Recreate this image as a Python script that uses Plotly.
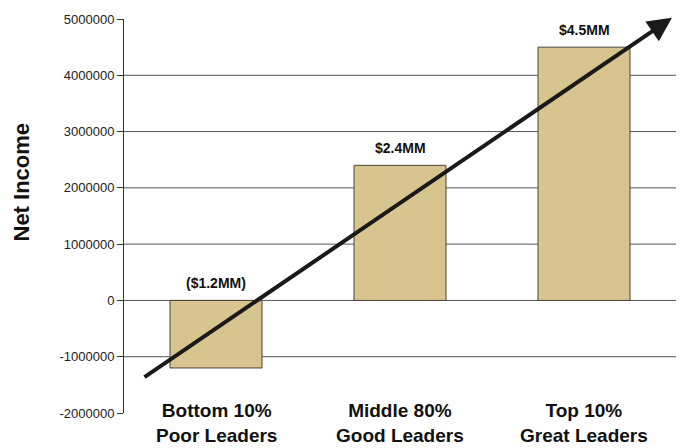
import plotly.graph_objects as go

categories = ["Bottom 10%<br>Poor Leaders", "Middle 80%<br>Good Leaders", "Top 10%<br>Great Leaders"]
net_income = [-1200000, 2400000, 4500000]
bar_labels = ["($1.2MM)", "$2.4MM", "$4.5MM"]
y_ticks = [-2000000, -1000000, 0, 1000000, 2000000, 3000000, 4000000, 5000000]
grid_values = [-1000000, 0, 1000000, 2000000, 3000000, 4000000]
arrow_tail = (-0.397, -1380000)
arrow_head = (2.478, 5020000)

x_pos = list(range(len(categories)))

fig = go.Figure()
fig.add_trace(go.Bar(
    x=x_pos, y=net_income, width=0.5,
    marker=dict(color="#d8c48e", line=dict(color="#4a4535", width=1)),
    showlegend=False, hoverinfo="y",
))

shapes = []
for g in grid_values:
    shapes.append(dict(type="line", xref="paper", yref="y", x0=0, x1=1, y0=g, y1=g,
                       line=dict(color="#555555", width=1), layer="below"))

annotations = []
for xi, v, lab in zip(x_pos, net_income, bar_labels):
    annotations.append(dict(x=xi, y=max(v, 0), xref="x", yref="y", text=f"<b>{lab}</b>",
                            showarrow=False, yanchor="bottom", yshift=7,
                            font=dict(family="Liberation Sans, Arial", size=14, color="#111111")))
for xi, cat in zip(x_pos, categories):
    annotations.append(dict(x=xi, y=0, xref="x", yref="paper", text=f"<b>{cat}</b>",
                            showarrow=False, yanchor="middle", yshift=-10,
                            font=dict(family="Liberation Sans, Arial", size=19, color="#111111")))
annotations.append(dict(x=0.0, y=0.585, xref="paper", yref="paper", xshift=-102,
                        xanchor="center", yanchor="middle",
                        text="<b>Net Income</b>", textangle=-90, showarrow=False,
                        font=dict(family="Liberation Sans, Arial", size=22, color="#111111")))
annotations.append(dict(x=arrow_head[0], y=arrow_head[1], ax=arrow_tail[0], ay=arrow_tail[1],
                        xref="x", yref="y", axref="x", ayref="y", text="",
                        showarrow=True, arrowhead=2, arrowsize=1.2, arrowwidth=4,
                        arrowcolor="#1a1a1a"))

fig.update_layout(
    width=684, height=448,
    margin=dict(l=124, r=8, t=19, b=35),
    paper_bgcolor="white", plot_bgcolor="white",
    shapes=shapes, annotations=annotations,
    xaxis=dict(range=[-0.5, 2.5], showticklabels=False, showgrid=False, zeroline=False,
               showline=False, ticks=""),
    yaxis=dict(range=[-2000000, 5000000], tickvals=y_ticks,
               ticktext=[str(t) for t in y_ticks], showgrid=False, zeroline=False,
               showline=True, linecolor="#333333", linewidth=1,
               ticks="outside", ticklen=6, tickcolor="#333333",
               tickfont=dict(family="Liberation Sans, Arial", size=13, color="#222222")),
)

fig.write_html("out.html")
